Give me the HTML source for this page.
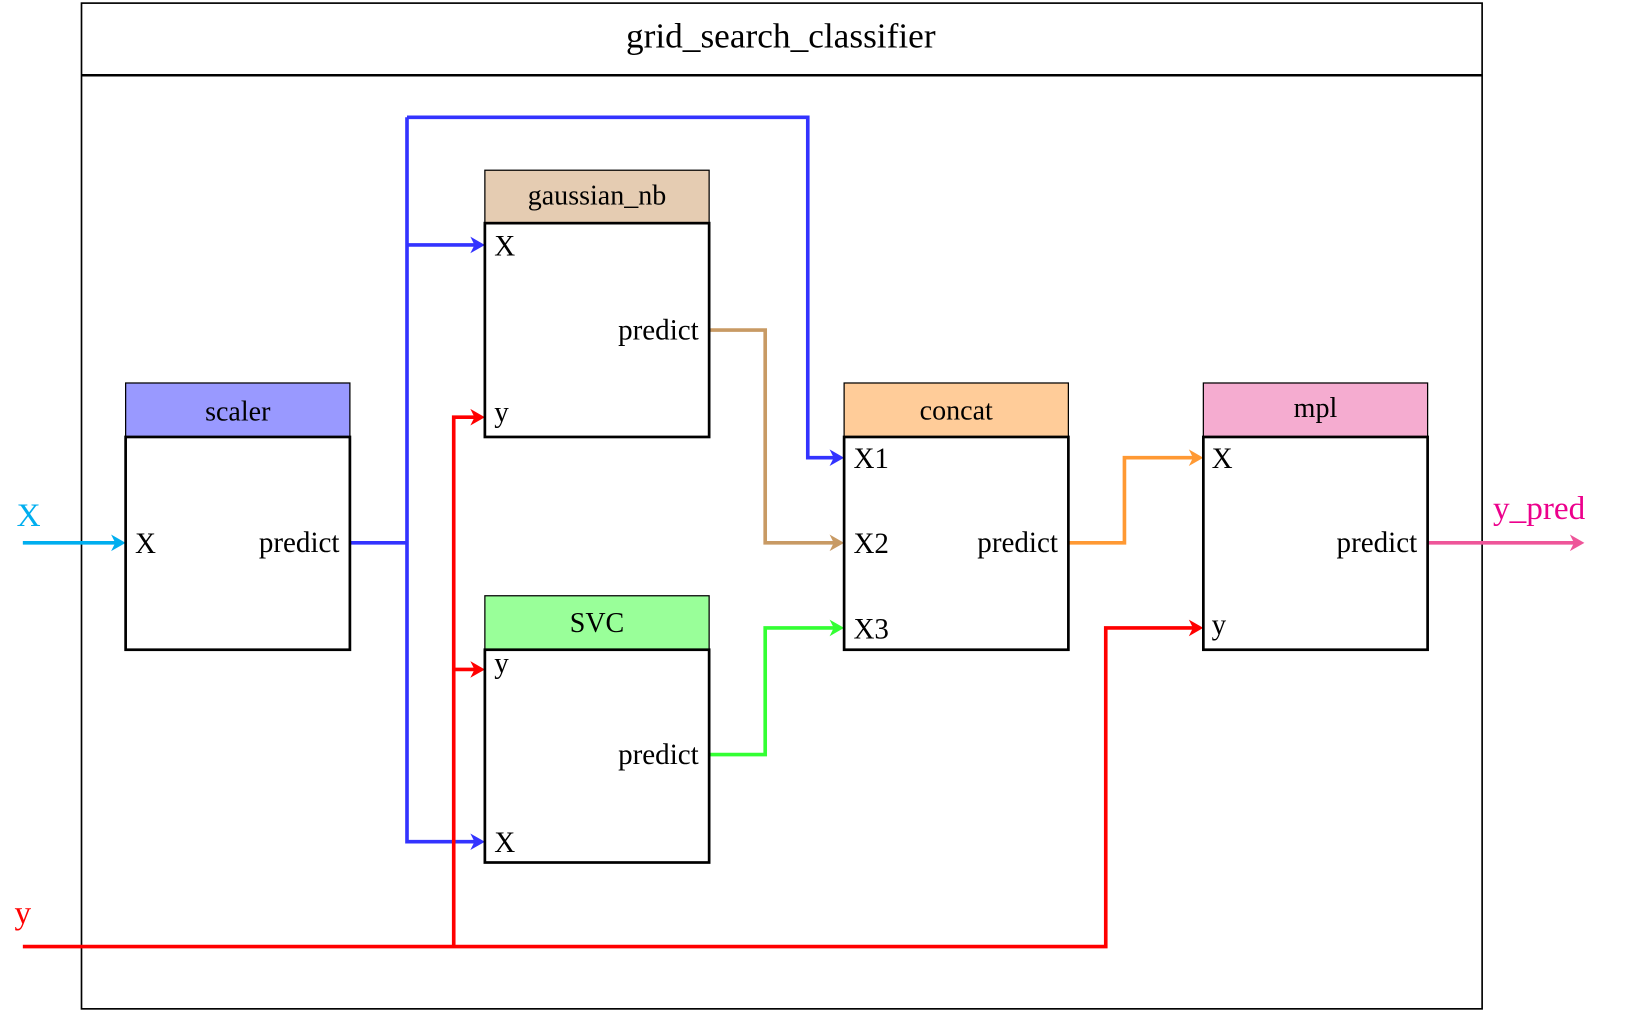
<!DOCTYPE html>
<html><head><meta charset="utf-8"><style>
html,body{margin:0;padding:0;background:#fff;width:1628px;height:1013px;overflow:hidden}
svg{display:block}
text{font-family:"Liberation Serif",serif;fill:#000}
</style></head><body>
<svg width="1628" height="1013" viewBox="0 0 1568 976" preserveAspectRatio="none">
<rect x="78.5" y="3" width="1349" height="969" fill="none" stroke="#000" stroke-width="1.6"/>
<line x1="78" y1="72.5" x2="1428" y2="72.5" stroke="#000" stroke-width="2.5"/>
<text x="752" y="46" font-size="34" text-anchor="middle">grid_search_classifier</text>

<g fill="none" stroke-width="3.5">
<polyline points="22,523 114,523" stroke="#00aeef"/>
<polyline points="337,523 392,523" stroke="#3333ff"/>
<polyline points="392,113 392,811 460,811" stroke="#3333ff"/>
<polyline points="392,236 460,236" stroke="#3333ff"/>
<polyline points="392,113 778,113 778,441 806,441" stroke="#3333ff"/>
<polyline points="22,912 1065,912 1065,605 1152,605" stroke="#ff0000"/>
<polyline points="437,912 437,402 460,402" stroke="#ff0000"/>
<polyline points="437,645 460,645" stroke="#ff0000"/>
<polyline points="683,318 737,318 737,523 806,523" stroke="#c89a64"/>
<polyline points="683,727 737,727 737,605 806,605" stroke="#33ff33"/>
<polyline points="1029,523 1083,523 1083,441 1152,441" stroke="#ff9933"/>
<polyline points="1375,523 1518,523" stroke="#ee5599"/>
</g>
<g>
<polygon points="121,523 107,515 111,523 107,531" fill="#00aeef"/>
<polygon points="467,811 453,803 457,811 453,819" fill="#3333ff"/>
<polygon points="467,236 453,228 457,236 453,244" fill="#3333ff"/>
<polygon points="813,441 799,433 803,441 799,449" fill="#3333ff"/>
<polygon points="1159,605 1145,597 1149,605 1145,613" fill="#ff0000"/>
<polygon points="467,402 453,394 457,402 453,410" fill="#ff0000"/>
<polygon points="467,645 453,637 457,645 453,653" fill="#ff0000"/>
<polygon points="813,523 799,515 803,523 799,531" fill="#c89a64"/>
<polygon points="813,605 799,597 803,605 799,613" fill="#33ff33"/>
<polygon points="1159,441 1145,433 1149,441 1145,449" fill="#ff9933"/>
<polygon points="1526,523 1512,515 1516,523 1512,531" fill="#ee5599"/>
</g>
<text x="16" y="507" font-size="32" style="fill:#00aeef">X</text>
<text x="14" y="890" font-size="32" style="fill:#ff0000">y</text>
<text x="1438" y="500" font-size="32" style="fill:#ec008c">y_pred</text>

<g stroke="#000">
<rect x="121" y="369" width="216" height="52" fill="#9999ff" stroke-width="1.2"/>
<rect x="121" y="421" width="216" height="205" fill="none" stroke-width="2.6"/>
<rect x="467" y="164" width="216" height="51" fill="#e5ccb2" stroke-width="1.2"/>
<rect x="467" y="215" width="216" height="206" fill="none" stroke-width="2.6"/>
<rect x="467" y="574" width="216" height="52" fill="#99ff99" stroke-width="1.2"/>
<rect x="467" y="626" width="216" height="205" fill="none" stroke-width="2.6"/>
<rect x="813" y="369" width="216" height="52" fill="#ffcc99" stroke-width="1.2"/>
<rect x="813" y="421" width="216" height="205" fill="none" stroke-width="2.6"/>
<rect x="1159" y="369" width="216" height="52" fill="#f5acd0" stroke-width="1.2"/>
<rect x="1159" y="421" width="216" height="205" fill="none" stroke-width="2.6"/>
</g>
<g font-size="28">
<text x="229" y="405" text-anchor="middle" font-size="27">scaler</text>
<text x="130" y="533">X</text>
<text x="327" y="532" text-anchor="end">predict</text>
<text x="575" y="197" text-anchor="middle" font-size="27">gaussian_nb</text>
<text x="476" y="246">X</text>
<text x="673" y="327" text-anchor="end">predict</text>
<text x="476" y="406">y</text>
<text x="575" y="609" text-anchor="middle" font-size="27">SVC</text>
<text x="476" y="648">y</text>
<text x="673" y="736" text-anchor="end">predict</text>
<text x="476" y="821">X</text>
<text x="921" y="404" text-anchor="middle" font-size="27">concat</text>
<text x="822" y="451">X1</text>
<text x="822" y="533">X2</text>
<text x="822" y="615">X3</text>
<text x="1019" y="532" text-anchor="end">predict</text>
<text x="1267" y="402" text-anchor="middle" font-size="27">mpl</text>
<text x="1167" y="451">X</text>
<text x="1167" y="611">y</text>
<text x="1365" y="532" text-anchor="end">predict</text>
</g>
</svg>
</body></html>
